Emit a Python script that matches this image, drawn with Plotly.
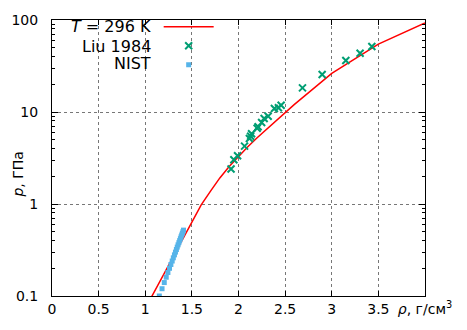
import plotly.graph_objects as go

# T = 296 K isotherm
rho_curve = [1.0, 1.1, 1.2, 1.3, 1.4, 1.5, 1.6, 1.7, 1.8, 1.9, 2.0, 2.1, 2.2, 2.3, 2.4,
             2.5, 2.6, 2.7, 2.8, 2.9, 3.0, 3.5, 4.0]
p_curve = [0.073, 0.113, 0.175, 0.27, 0.42, 0.64, 0.98, 1.38, 1.92, 2.55, 3.3, 4.2, 5.25,
           6.5, 8.0, 10.0, 12.1, 14.7, 17.9, 21.7, 26.3, 54.7, 93.0]

# Liu 1984
rho_liu = [1.92, 1.95, 1.99, 2.065, 2.117, 2.13, 2.14, 2.2, 2.21, 2.248, 2.275, 2.318,
           2.385, 2.428, 2.457, 2.686, 2.897, 3.151, 3.304, 3.43]
p_liu = [2.40, 3.03, 3.35, 4.26, 5.15, 5.45, 5.8, 6.66, 6.92, 7.7, 8.5, 9.0,
         10.9, 11.1, 11.85, 18.3, 25.6, 36.3, 43.5, 51.6]

# NIST
p_nist = [0.10, 0.12, 0.14, 0.16, 0.18, 0.20, 0.22, 0.24, 0.26, 0.28, 0.30, 0.32, 0.34,
          0.36, 0.38, 0.40, 0.42, 0.44, 0.46, 0.48, 0.50, 0.52]
rho_nist = [1.151, 1.180, 1.204, 1.225, 1.243, 1.260, 1.275, 1.289, 1.301, 1.313, 1.324,
            1.334, 1.343, 1.352, 1.361, 1.369, 1.377, 1.384, 1.391, 1.398, 1.404, 1.41]

x_ticks = [0, 0.5, 1, 1.5, 2, 2.5, 3, 3.5, 4]
x_ticktext = ["0", "0.5", "1", "1.5", "2", "2.5", "3", "3.5", "<i>ρ</i>, г/см<sup>3</sup>"]
y_ticks = [0.1, 1, 10, 100]
y_ticktext = ["0.1", "1", "10", "100"]
y_minor = [0.2, 0.3, 0.4, 0.5, 0.6, 0.7, 0.8, 0.9, 2, 3, 4, 5, 6, 7, 8, 9,
           20, 30, 40, 50, 60, 70, 80, 90]

legend_labels = ["<i>T</i> = 296 K", "Liu 1984", "NIST"]

FONT = "DejaVu Sans"
fig = go.Figure()
fig.add_trace(go.Scatter(x=rho_curve, y=p_curve, mode="lines", name=" ",
                         line=dict(color="#ff0000", width=1.5)))
fig.add_trace(go.Scatter(x=rho_liu, y=p_liu, mode="markers", name=" ",
                         marker=dict(symbol="x-thin", size=7, line=dict(color="#009e73", width=2),
                                     color="#009e73")))
fig.add_trace(go.Scatter(x=rho_nist, y=p_nist, mode="markers", name=" ",
                         marker=dict(symbol="square", size=5, color="#56b4e9")))

axis_common = dict(showline=True, linecolor="black", linewidth=1, mirror="allticks",
                   ticks="inside", tickcolor="black", zeroline=False,
                   showgrid=True, gridcolor="#777777", griddash="dot", gridwidth=1,
                   tickfont=dict(family=FONT, size=14, color="black"))

fig.update_xaxes(range=[0, 4], tickmode="array", tickvals=x_ticks, ticktext=x_ticktext,
                 ticklen=5, **axis_common)
fig.update_yaxes(type="log", range=[-1, 2], tickmode="array", tickvals=y_ticks,
                 ticktext=y_ticktext, ticklen=6, ticklabelstandoff=10,
                 minor=dict(tickvals=y_minor, ticks="inside", ticklen=3, tickcolor="black",
                            showgrid=False),
                 **axis_common)

ann = []
for lbl, yp in zip(legend_labels, [0.976, 0.905, 0.842]):
    ann.append(dict(text=lbl, x=0.27, y=yp, xref="paper", yref="paper", xanchor="right",
                    yanchor="middle", showarrow=False,
                    font=dict(family=FONT, size=16, color="black")))
ann.append(dict(text="<i>p</i>, ГПа", x=-0.091, y=0.44, xref="paper", yref="paper",
                textangle=-90, xanchor="center", yanchor="middle", showarrow=False,
                font=dict(family=FONT, size=14, color="black")))

fig.update_layout(width=467, height=330, margin=dict(l=52, r=42, t=13, b=34),
                  plot_bgcolor="white", paper_bgcolor="white",
                  showlegend=True,
                  legend=dict(x=0.286, y=1.028, xanchor="left", yanchor="top",
                              bgcolor="rgba(0,0,0,0)", borderwidth=0,
                              font=dict(family=FONT, size=11), tracegroupgap=0,
                              itemwidth=50),
                  annotations=ann)

fig.write_html("out.html")
